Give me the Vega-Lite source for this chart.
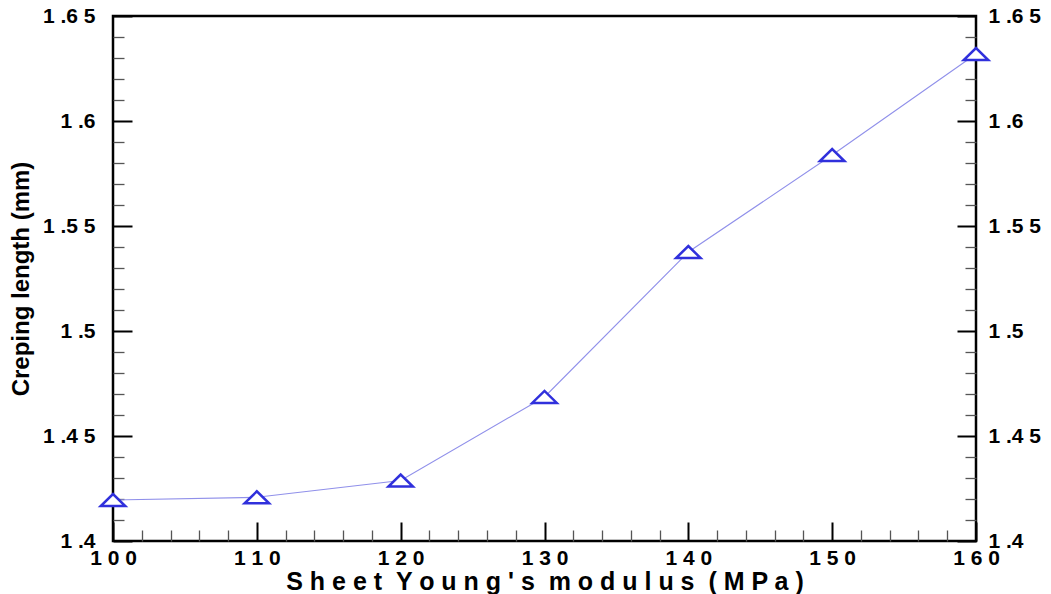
{
  "$schema": "https://vega.github.io/schema/vega-lite/v6.json",
  "width": 863,
  "height": 525,
  "autosize": {"type": "none"},
  "padding": {"left": 113, "top": 16, "right": 75, "bottom": 53},
  "background": "white",
  "config": {
    "font": "Liberation Sans",
    "view": {"stroke": "black", "strokeWidth": 2.5}
  },
  "data": {
    "values": [
      {"modulus": 100, "creep": 1.4195},
      {"modulus": 110, "creep": 1.4208},
      {"modulus": 120, "creep": 1.4288},
      {"modulus": 130, "creep": 1.4686},
      {"modulus": 140, "creep": 1.5376},
      {"modulus": 150, "creep": 1.5838},
      {"modulus": 160, "creep": 1.6319}
    ]
  },
  "encoding": {
    "x": {
      "field": "modulus",
      "type": "quantitative",
      "scale": {"domain": [100, 160], "nice": false, "zero": false},
      "axis": {
        "values": [100, 102, 104, 106, 108, 110, 112, 114, 116, 118, 120, 122, 124, 126, 128, 130, 132, 134, 136, 138, 140, 142, 144, 146, 148, 150, 152, 154, 156, 158, 160],
        "domain": false,
        "ticks": false,
        "grid": true,
        "gridDash": {"condition": {"test": "datum.value % 10 === 0", "value": [0, 506, 19, 2000]}, "value": [0, 514, 11, 2000]},
        "gridColor": {"condition": {"test": "datum.value % 10 === 0", "value": "#000000"}, "value": "#555555"},
        "gridWidth": {"condition": {"test": "datum.value % 10 === 0", "value": 2}, "value": 1.3},
        "gridOpacity": 1,
        "labelExpr": "datum.value % 10 === 0 ? join(split(toString(datum.value), ''), ' ') : ''",
        "labelFlush": false,
        "labelOverlap": false,
        "labelFontSize": 21,
        "labelFontWeight": "bold",
        "labelColor": "#000000",
        "labelPadding": 6,
        "title": "S h e e t \u00a0Y o u n g ' s \u00a0m o d u l u s \u00a0( M P a )",
        "titleFontSize": 25,
        "titleFontWeight": "bold",
        "titleColor": "#000000",
        "titleBaseline": "alphabetic",
        "titleY": 48
      }
    }
  },
  "layer": [
    {
      "mark": {"type": "line", "color": "#9090ea", "strokeWidth": 1.1},
      "encoding": {
        "y": {
          "field": "creep",
          "type": "quantitative",
          "scale": {"domain": [1.4, 1.65], "nice": false, "zero": false},
          "axis": {
            "orient": "left",
            "values": [1.4, 1.41, 1.42, 1.43, 1.44, 1.45, 1.46, 1.47, 1.48, 1.49, 1.5, 1.51, 1.52, 1.53, 1.54, 1.55, 1.56, 1.57, 1.58, 1.59, 1.6, 1.61, 1.62, 1.63, 1.64, 1.65],
            "domain": false,
            "ticks": false,
            "grid": true,
            "gridDash": {"condition": {"test": "abs(datum.value * 20 - round(datum.value * 20)) < 0.000001", "value": [19, 2000]}, "value": [11, 2000]},
            "gridColor": {"condition": {"test": "abs(datum.value * 20 - round(datum.value * 20)) < 0.000001", "value": "#000000"}, "value": "#555555"},
            "gridWidth": {"condition": {"test": "abs(datum.value * 20 - round(datum.value * 20)) < 0.000001", "value": 2}, "value": 1.3},
            "gridOpacity": 1,
            "labelExpr": "abs(datum.value * 20 - round(datum.value * 20)) < 0.000001 ? substring(toString(round(datum.value * 100) / 100), 0, 1) + ' .' + join(split(substring(toString(round(datum.value * 100) / 100), 2), ''), ' ') : ''",
            "labelOverlap": false,
            "labelFontSize": 21,
            "labelFontWeight": "bold",
            "labelColor": "#000000",
            "labelPadding": 18,
            "labelBaseline": "middle",
            "title": "Creping length (mm)",
            "titleFontSize": 24,
            "titleFontWeight": "bold",
            "titleColor": "#000000",
            "titleBaseline": "bottom",
            "titleX": -80,
            "titleY": 262.5
          }
        }
      }
    },
    {
      "mark": {
        "type": "point",
        "shape": "M-1,0.49L1,0.49L0,-0.49Z",
        "size": 600,
        "fill": "white",
        "stroke": "#3030dc",
        "strokeWidth": 2.5,
        "opacity": 1
      },
      "encoding": {
        "y": {
          "field": "creep",
          "type": "quantitative",
          "scale": {"domain": [1.4, 1.65], "nice": false, "zero": false},
          "axis": {
            "orient": "right",
            "values": [1.4, 1.41, 1.42, 1.43, 1.44, 1.45, 1.46, 1.47, 1.48, 1.49, 1.5, 1.51, 1.52, 1.53, 1.54, 1.55, 1.56, 1.57, 1.58, 1.59, 1.6, 1.61, 1.62, 1.63, 1.64, 1.65],
            "domain": false,
            "ticks": false,
            "grid": true,
            "gridDash": {"condition": {"test": "abs(datum.value * 20 - round(datum.value * 20)) < 0.000001", "value": [19, 2000]}, "value": [11, 2000]},
            "gridColor": {"condition": {"test": "abs(datum.value * 20 - round(datum.value * 20)) < 0.000001", "value": "#000000"}, "value": "#555555"},
            "gridWidth": {"condition": {"test": "abs(datum.value * 20 - round(datum.value * 20)) < 0.000001", "value": 2}, "value": 1.3},
            "gridOpacity": 1,
            "labelExpr": "abs(datum.value * 20 - round(datum.value * 20)) < 0.000001 ? substring(toString(round(datum.value * 100) / 100), 0, 1) + ' .' + join(split(substring(toString(round(datum.value * 100) / 100), 2), ''), ' ') : ''",
            "labelOverlap": false,
            "labelFontSize": 21,
            "labelFontWeight": "bold",
            "labelColor": "#000000",
            "labelPadding": 12,
            "labelBaseline": "middle",
            "title": null
          }
        }
      }
    }
  ],
  "resolve": {"axis": {"y": "independent"}}
}
